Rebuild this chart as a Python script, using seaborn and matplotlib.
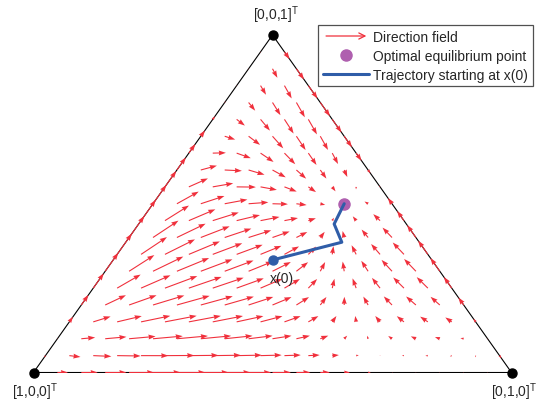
# Campo de direcciones de la dinámica del replicador sobre el simplex
# y trayectoria desde x(0) hasta el punto de equilibrio óptimo

import numpy as np
import pandas as pd
import matplotlib
matplotlib.use('Agg')
import matplotlib.pyplot as plt
import seaborn as sns
from matplotlib.lines import Line2D
from matplotlib.patches import FancyArrowPatch
from matplotlib.legend_handler import HandlerBase

#== Datos

x_opt = [0.1, 0.4, 0.5]          # punto de equilibrio óptimo (baricéntricas)
n_malla = 20                     # divisiones de la malla del campo

# flechas: nodo de la malla (i, j, k)/20,
# ángulo en pantalla (grados) y largo (px)
obs_i = [18, 15, 12, 9, 6, 4, 2, 16, 13, 10, 7, 4, 1, 13, 10, 7, 4, 2,
         11, 8, 5, 2, 9, 6, 4, 1, 7, 5, 3, 1, 5, 3, 1, 3, 2, 1, 1, 15, 5,
         18, 16, 14, 12, 10, 8, 6, 3, 0, 0, 0, 2, 6, 8, 10]
obs_j = [1, 4, 7, 10, 13, 15, 17, 1, 4, 7, 10, 13, 16, 1, 4, 7, 10, 12,
         1, 4, 7, 10, 1, 4, 6, 9, 1, 3, 5, 7, 1, 3, 5, 1, 2, 3, 1, 0, 0,
         2, 4, 6, 8, 10, 12, 14, 17, 16, 10, 4, 0, 1, 1, 0]
obs_k = [1, 1, 1, 1, 1, 1, 1, 3, 3, 3, 3, 3, 3, 6, 6, 6, 6, 6,
         8, 8, 8, 8, 10, 10, 10, 10, 12, 12, 12, 12, 14, 14, 14, 16, 16, 16, 18, 5, 15,
         0, 0, 0, 0, 0, 0, 0, 0, 4, 10, 16, 18, 13, 11, 10]
obs_ang = [10, 5, 3, 0, 0, 160, 160, 25, 12, 8, 5, 150, 140, 35, 22, 12, 95, 125,
           38, 18, 8, 120, 30, 0, -3, 180, -10, -20, -30, -45, -60, -60, -55,
           -95, -80, -70, -85, 54.7, 54.7,
           0, 0, 0, 0, 0, 0, 0, 0, 125, 125, 125, 54.7, -20, 0, 54.7]
obs_len = [10, 28, 32, 22, 10, 7, 7, 14, 28, 30, 15, 8, 8, 20, 28, 20, 5, 8,
           20, 22, 12, 6, 15, 25, 15, 1, 10, 17, 18, 10, 10, 20, 20,
           12, 17, 22, 10, 12, 10,
           10, 20, 25, 22, 15, 6, 2, 2, 2, 2, 2, 6, 8, 8, 10]

# trayectoria (x1, x2, x3)
tray_x1 = [1/3, 0.162, 0.151, 0.1]
tray_x2 = [1/3, 0.452, 0.409, 0.4]
tray_x3 = [1/3, 0.386, 0.440, 0.5]

etiquetas_vert = ['[1,0,0]', '[0,1,0]', '[0,0,1]']
vert_x1 = [1, 0, 0]
vert_x2 = [0, 1, 0]
vert_x3 = [0, 0, 1]

ANCHO_PX, ALTO_PX = 478, 337.5   # tamaño del triángulo en pantalla


# === coordenadas baricéntricas -> plano (A abajo izq, B abajo der, C arriba)
def a_plano(x1, x2, x3):
    x2 = np.asarray(x2, dtype=float)
    x3 = np.asarray(x3, dtype=float)
    return x2 + 0.5 * x3, x3


# === funciones base de la aptitud de cada estrategia (nulas en x_opt)
def bases(u, c):
    u = np.clip(u, 1e-6, None)
    return np.stack([u - c, np.log(u / c), (u - c) ** 3], axis=-1)


# === matriz que lleva los parámetros a la velocidad en pantalla
# replicador: dx_i = x_i (f_i - sum_j x_j f_j)
def matriz_campo(P):
    B = np.stack([bases(P[:, i], x_opt[i]) for i in range(3)], axis=1)
    n = len(P)
    D = np.zeros((n, 3, 9))
    for i in range(3):
        for j in range(3):
            delta = 1.0 if i == j else 0.0
            D[:, i, 3*j:3*j+3] = (P[:, i] * (delta - P[:, j]))[:, None] * B[:, j, :]
    sx = ANCHO_PX * D[:, 1] + 0.5 * ANCHO_PX * D[:, 2]
    sy = ALTO_PX * D[:, 2]
    return sx, sy


# === ajuste de la aptitud a las flechas observadas
P_obs = np.column_stack([obs_i, obs_j, obs_k]) / n_malla
ang = np.radians(obs_ang)
y_obs = np.concatenate([np.array(obs_len) * np.cos(ang),
                        np.array(obs_len) * np.sin(ang)])
sx, sy = matriz_campo(P_obs)
A = np.vstack([sx, sy, 0.05 * np.eye(9)])
theta = np.linalg.lstsq(A, np.concatenate([y_obs, np.zeros(9)]), rcond=None)[0]

# === malla completa del campo
malla = np.array([(i, j, n_malla - i - j)
                  for i in range(n_malla + 1)
                  for j in range(n_malla + 1 - i)], dtype=float) / n_malla
malla = malla[malla.max(axis=1) < 1]   # sin los vértices
sx, sy = matriz_campo(malla)

df_campo = pd.DataFrame({'x1': malla[:, 0], 'x2': malla[:, 1], 'x3': malla[:, 2]})
df_campo['X'], df_campo['Y'] = a_plano(df_campo['x1'], df_campo['x2'], df_campo['x3'])
df_campo['U'] = sx @ theta / ANCHO_PX
df_campo['V'] = sy @ theta / ALTO_PX

df_tray = pd.DataFrame({'x1': tray_x1, 'x2': tray_x2, 'x3': tray_x3})
df_tray['X'], df_tray['Y'] = a_plano(df_tray['x1'], df_tray['x2'], df_tray['x3'])

vx, vy = a_plano(vert_x1, vert_x2, vert_x3)
ex, ey = a_plano(*x_opt)

#== Estilo

sns.set_style('white')
plt.rcParams['font.family'] = ['Liberation Sans', 'DejaVu Sans']
plt.rcParams['mathtext.fontset'] = 'custom'
plt.rcParams['mathtext.rm'] = 'Liberation Sans'

rojo = '#F0303C'
azul = '#2F5DA8'
morado = '#AF5FAF'

# ejes: el triángulo ocupa de (33.5, 373.5) a (511.5, 36) px
fig = plt.figure(figsize=(5.43, 4.02), dpi=100)
ax = fig.add_axes([33.5 / 543, 28.5 / 402, ANCHO_PX / 543, ALTO_PX / 402])
ax.set_xlim(0, 1)
ax.set_ylim(0, 1)
ax.axis('off')

# triángulo
ax.plot(list(vx) + [vx[0]], list(vy) + [vy[0]], color='black', lw=0.8, zorder=1)

# campo de direcciones (largo en px según el ajuste, algo ampliado)
ax.quiver(df_campo['X'], df_campo['Y'], df_campo['U'], df_campo['V'],
          angles='xy', scale_units='xy', scale=1 / 1.2, color=rojo,
          units='dots', width=1.1, headwidth=4.5, headlength=6.5,
          headaxislength=6, minlength=0.5, zorder=2)

# trayectoria
sns.lineplot(data=df_tray, x='X', y='Y', sort=False, color=azul, lw=2.2,
             ax=ax, zorder=4)
ax.plot(df_tray['X'][0], df_tray['Y'][0], 'o', color=azul, ms=6.5, zorder=5)
ax.plot(ex, ey, 'o', color=morado, ms=8, zorder=3)

# vértices
ax.plot(vx, vy, 'o', color='black', ms=6.5, clip_on=False, zorder=6)

ax.annotate(etiquetas_vert[2] + r'$^{\mathrm{T}}$', (vx[2], vy[2]),
            xytext=(4, 10), textcoords='offset pixels', ha='center',
            va='bottom', fontsize=10)
ax.annotate(etiquetas_vert[0] + r'$^{\mathrm{T}}$', (vx[0], vy[0]),
            xytext=(2, -8), textcoords='offset pixels', ha='center',
            va='top', fontsize=10)
ax.annotate(etiquetas_vert[1] + r'$^{\mathrm{T}}$', (vx[1], vy[1]),
            xytext=(3, -8), textcoords='offset pixels', ha='center',
            va='top', fontsize=10)
ax.annotate('x(0)', (df_tray['X'][0], df_tray['Y'][0]),
            xytext=(-3, -11), textcoords='offset pixels', ha='left',
            va='top', fontsize=10)


# === leyenda con flecha
class ManejadorFlecha(HandlerBase):
    def create_artists(self, legend, orig_handle, xdescent, ydescent,
                       width, height, fontsize, trans):
        y = height / 2 - ydescent
        fl = FancyArrowPatch((-xdescent, y), (width - xdescent, y),
                             arrowstyle='->', mutation_scale=11,
                             color=rojo, lw=0.9, transform=trans)
        return [fl]


h_campo = FancyArrowPatch((0, 0), (1, 0))
h_eq = Line2D([], [], marker='o', ls='', color=morado, ms=8)
h_tray = Line2D([], [], color=azul, lw=2.2)

leg = ax.legend([h_campo, h_eq, h_tray],
                ['Direction field', 'Optimal equilibrium point',
                 'Trajectory starting at x(0)'],
                handler_map={FancyArrowPatch: ManejadorFlecha()},
                loc='upper right', bbox_to_anchor=(533 / 543, 1 - 26 / 402),
                bbox_transform=fig.transFigure, borderaxespad=0,
                fontsize=10, handlelength=3.3, handletextpad=0.3,
                labelspacing=0.35, borderpad=0.35, fancybox=False,
                framealpha=1, edgecolor='#505050')
leg.get_frame().set_linewidth(0.9)

plt.savefig('out.png', dpi=100)
